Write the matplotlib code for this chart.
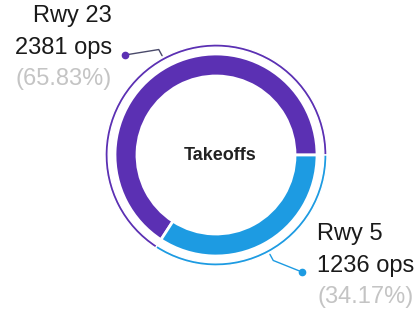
import numpy as np
import matplotlib
matplotlib.use("Agg")
import matplotlib.pyplot as plt

labels = ["Rwy 23", "Rwy 5"]
ops = [2381, 1236]
colors = ["#5b30b3", "#1d9be2"]
center_title = "Takeoffs"

W, H = 419, 310
fig = plt.figure(figsize=(W / 100, H / 100), dpi=100)
ax = fig.add_axes([0, 0, 1, 1])

cx, cy = 216, H - 155
R = 101
total = sum(ops)
pct = [v / total * 100 for v in ops]

# main donut
ax.pie(ops, colors=colors, startangle=0, counterclock=True, center=(cx, cy),
       radius=R, wedgeprops=dict(width=22, edgecolor="white", linewidth=2), frame=True)
# outer thin ring
ax.pie(ops, colors=colors, startangle=0, counterclock=True, center=(cx, cy),
       radius=R + 10, wedgeprops=dict(width=3.2, edgecolor="white", linewidth=1.0), frame=True)
ax.set_xlim(0, W)
ax.set_ylim(0, H)
ax.set_aspect("equal")
ax.axis("off")

ax.text(cx + 4, cy, center_title, ha="center", va="center", fontsize=13,
        fontweight="bold", family="Liberation Sans", color="#222222")

# leader lines and labels
angles = np.cumsum([0] + ops)[:-1] / total * 360 + np.array(ops) / total * 180
dots = [(125, H - 55), (302, H - 272)]
text_pos = [(112, "right"), (317, "left")]
text_ys = [[16, 48, 79], [234, 266, 297]]
line_cols = ["#4a4a6a", "#1d9be2"]
for i in range(2):
    a = np.deg2rad(angles[i])
    p0 = (cx + (R + 12) * np.cos(a), cy + (R + 12) * np.sin(a))
    p1 = (cx + (R + 19) * np.cos(a), cy + (R + 19) * np.sin(a))
    ax.plot([p0[0], p1[0], dots[i][0]], [p0[1], p1[1], dots[i][1]],
            color=line_cols[i], lw=1, solid_capstyle="round")
    ax.plot(*dots[i], "o", color=colors[i], ms=4.5)
    x, ha = text_pos[i]
    ys = text_ys[i]
    ax.text(x, H - ys[0], labels[i], ha=ha, va="center", fontsize=17,
            family="Liberation Sans", color="#1a1a1a")
    ax.text(x, H - ys[1], f"{ops[i]} ops", ha=ha, va="center", fontsize=17,
            family="Liberation Sans", color="#1a1a1a")
    ax.text(x, H - ys[2], f"({pct[i]:.2f}%)", ha=ha, va="center", fontsize=17,
            family="Liberation Sans", color="#c4c4c4")

fig.savefig("out.png", dpi=100)
